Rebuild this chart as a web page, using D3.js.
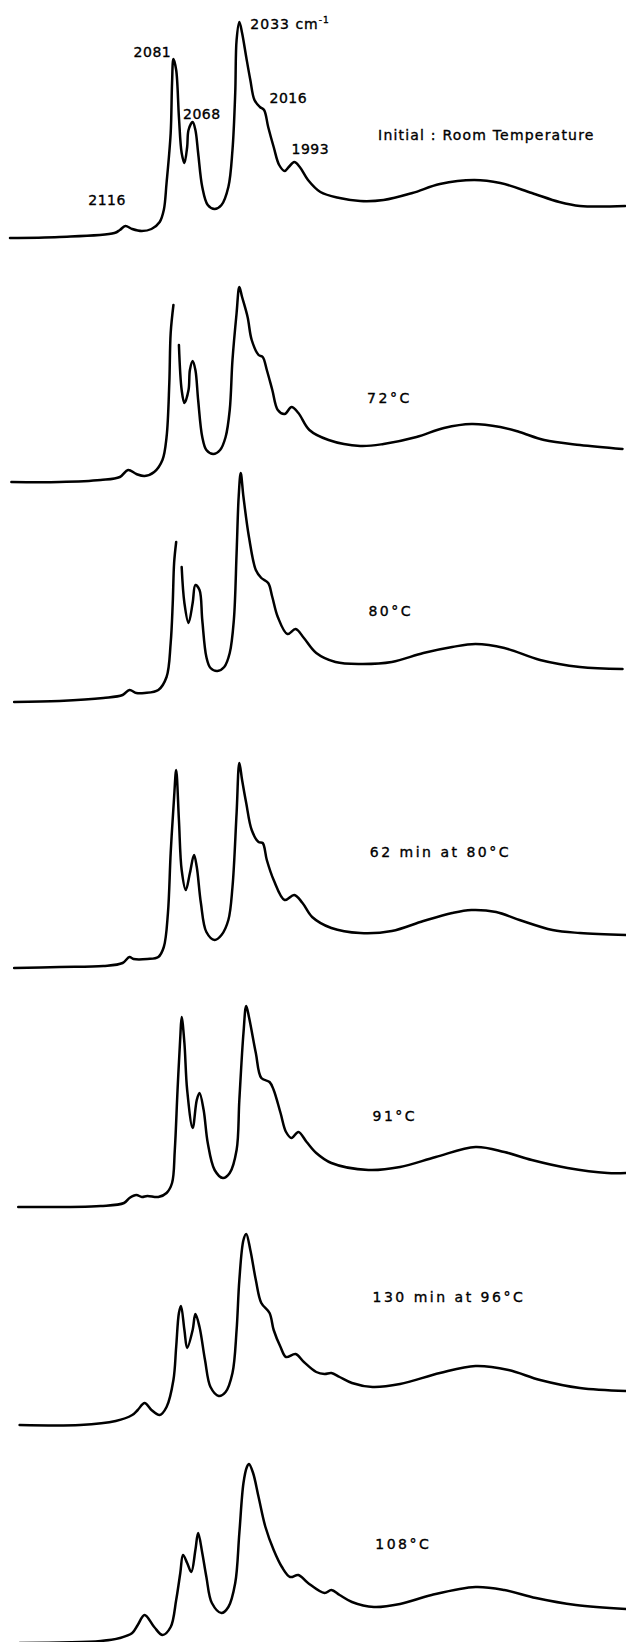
<!DOCTYPE html>
<html>
<head>
<meta charset="utf-8">
<script src="https://cdn.jsdelivr.net/npm/d3@7"></script>
<style>
    body { margin: 0; background: #fff; }
    svg { display: block; }
</style>
</head>
<body>
<div id="chart"></div>
<script>
// Each trace: [wavenumber cm-1, absorbance above that trace's own baseline]
// null marks where the pen lifted off the paper
var roomTemp = [[2200,0],[2164,0.01],[2124,0.05],[2120,0.08],[2116,0.12],[2111,0.09],[2104,0.07],[2097,0.09],
    [2091,0.16],[2088,0.28],[2086,0.55],[2083,1.05],[2082,1.55],[2081,1.79],[2079,1.68],[2077,1.21],[2075,0.85],
    [2073,0.75],[2071,0.91],[2070,1.08],[2067,1.16],[2065,1.08],[2063,0.85],[2060,0.51],[2056,0.33],[2051,0.29],
    [2046,0.33],[2041,0.51],[2038,0.88],[2036,1.45],[2035,1.98],[2033,2.16],[2031,2.05],[2028,1.81],[2025,1.58],
    [2022,1.38],[2018,1.31],[2015,1.28],[2012,1.11],[2008,0.91],[2004,0.73],[2000,0.67],[1997,0.71],[1993,0.76],
    [1989,0.71],[1983,0.58],[1974,0.46],[1960,0.40],[1945,0.37],[1928,0.38],[1907,0.45],[1887,0.54],[1862,0.58],
    [1843,0.55],[1820,0.45],[1800,0.36],[1785,0.32],[1752,0.32]];

var temp72 = [[2199,0],[2164,0],[2134,0.02],[2120,0.05],[2114,0.12],[2108,0.08],[2102,0.06],[2095,0.10],
    [2089,0.22],[2086,0.45],[2084,0.99],[2083,1.49],[2081,1.77],null,[2077,1.37],[2075,0.92],[2073,0.79],
    [2070,0.92],[2069,1.12],[2067,1.21],[2065,1.12],[2063,0.82],[2060,0.45],[2057,0.32],[2052,0.28],[2047,0.32],
    [2043,0.45],[2040,0.72],[2038,1.22],[2035,1.69],[2033,1.95],[2031,1.85],[2027,1.65],[2024,1.42],[2019,1.27],
    [2016,1.25],[2013,1.12],[2009,0.92],[2005,0.72],[2000,0.68],[1995,0.75],[1990,0.69],[1982,0.52],[1968,0.42],
    [1945,0.36],[1928,0.38],[1904,0.45],[1884,0.54],[1864,0.58],[1843,0.55],[1829,0.50],[1811,0.42],[1785,0.37],
    [1754,0.33]];

var temp80 = [[2197,0],[2164,0.01],[2132,0.04],[2118,0.07],[2113,0.12],[2108,0.09],[2102,0.09],[2092,0.12],
    [2086,0.25],[2083,0.59],[2081.5,0.99],[2080.5,1.39],[2079,1.60],null,[2075,1.35],[2073,0.99],[2070,0.79],
    [2067,0.99],[2065,1.17],[2062,1.12],[2060,0.82],[2057,0.45],[2054,0.34],[2049,0.31],[2044,0.35],[2040,0.49],
    [2037,0.82],[2035,1.49],[2033.5,2.05],[2032,2.29],[2030,2.05],[2026,1.65],[2021,1.32],[2017,1.24],[2012,1.19],
    [2009,1.05],[2005,0.85],[1998,0.68],[1992,0.73],[1986,0.64],[1977,0.49],[1963,0.40],[1945,0.38],[1922,0.40],
    [1899,0.49],[1878,0.55],[1861,0.58],[1840,0.54],[1814,0.42],[1785,0.35],[1754,0.33]];

var min62at80 = [[2197,0],[2164,0.01],[2132,0.02],[2118,0.05],[2113,0.11],[2110,0.09],[2100,0.09],[2092,0.11],
    [2088,0.21],[2085,0.55],[2083,1.15],[2080.5,1.71],[2079,1.98],[2077,1.48],[2075,0.98],[2072,0.78],[2069,0.95],
    [2066,1.13],[2064,1.01],[2061,0.65],[2057,0.36],[2051,0.28],[2046,0.33],[2041,0.48],[2038,0.81],[2035,1.55],
    [2033,2.05],[2031,1.88],[2028,1.65],[2024,1.38],[2019,1.26],[2016,1.25],[2013,1.08],[2008,0.88],[2000,0.68],
    [1993,0.73],[1987,0.65],[1980,0.51],[1966,0.40],[1945,0.35],[1922,0.37],[1899,0.47],[1878,0.55],[1864,0.58],
    [1846,0.56],[1829,0.48],[1805,0.38],[1785,0.35],[1751,0.33]];

var temp91 = [[2194,0],[2134,0.01],[2117,0.04],[2113,0.09],[2108,0.12],[2104,0.10],[2100,0.11],[2092,0.10],
    [2086,0.14],[2082,0.24],[2080,0.57],[2078,1.17],[2076,1.70],[2075,1.90],[2073,1.64],[2071,1.17],[2067,0.79],
    [2064,1.07],[2062,1.14],[2059,0.97],[2056,0.64],[2051,0.37],[2045,0.29],[2040,0.34],[2035,0.57],[2033,1.07],
    [2030,1.74],[2028,2.01],[2026,1.90],[2021,1.54],[2017,1.29],[2011,1.25],[2008,1.17],[2003,0.94],[1999,0.75],
    [1995,0.69],[1990,0.75],[1984,0.65],[1977,0.54],[1966,0.44],[1939,0.37],[1916,0.40],[1890,0.50],[1861,0.60],
    [1840,0.55],[1820,0.47],[1794,0.39],[1765,0.34],[1751,0.34]];

var min130at96 = [[2193,0],[2149,0],[2123,0.04],[2111,0.10],[2107,0.15],[2102,0.22],[2097,0.15],[2091,0.10],
    [2086,0.18],[2081,0.45],[2079,0.78],[2077,1.12],[2075.5,1.19],[2073,0.95],[2071,0.77],[2067,0.95],[2065,1.11],
    [2062,0.98],[2058,0.65],[2054,0.38],[2048,0.29],[2043,0.33],[2038,0.52],[2035,0.95],[2033,1.45],[2030,1.85],
    [2028,1.91],[2025,1.75],[2021,1.45],[2017,1.22],[2011,1.12],[2008,0.95],[2003,0.78],[1999,0.68],[1992,0.71],
    [1986,0.63],[1977,0.53],[1971,0.51],[1966,0.52],[1960,0.48],[1951,0.42],[1936,0.38],[1916,0.41],[1887,0.52],
    [1861,0.59],[1837,0.55],[1814,0.45],[1785,0.37],[1751,0.34]];

var temp108 = [[2193,-0.01],[2134,0.01],[2120,0.04],[2111,0.09],[2107,0.17],[2102,0.27],[2095,0.15],[2089,0.07],
    [2083,0.15],[2079,0.42],[2076,0.69],[2074,0.87],[2071,0.79],[2068,0.70],[2065,0.92],[2063,1.09],[2060,0.89],
    [2057,0.65],[2053,0.39],[2046,0.29],[2041,0.35],[2036,0.59],[2033,1.09],[2030,1.59],[2027.5,1.75],[2026,1.78],
    [2023,1.69],[2019,1.45],[2014,1.15],[2008,0.92],[2002,0.75],[1996,0.65],[1990,0.67],[1983,0.59],[1971,0.49],
    [1966,0.52],[1960,0.47],[1951,0.40],[1935,0.35],[1916,0.38],[1893,0.47],[1861,0.55],[1840,0.52],[1817,0.44],
    [1788,0.37],[1751,0.33]];

// Vertical stacking offset of each trace (absorbance units)
var traceOffsets = [14.04, 11.60, 9.40, 6.74, 4.35, 2.17, 0];

var traceNames = ["Initial : Room Temperature", "72°C", "80°C", "62 min at 80°C",
    "91°C", "130 min at 96°C", "108°C"];

// where each trace name sits, in [wavenumber, absorbance]
var traceNameAt = [[1932, 15.02], [1940, 12.39], [1939, 10.26], [1938, 7.85],
    [1936, 5.21], [1936, 3.40], [1934, 0.93]];

// band assignments written over the first trace
var peakNames = ["2116", "2081", "2068", "2016", "1993"];
var peakNameAt = [[2143, 14.37], [2110, 15.85], [2074, 15.23], [2011, 15.39], [1995, 14.88]];
var mainPeak = "2033";
var mainPeakAt = [2025, 16.13];

var SpectraChart = function() {
    var width = 626;
    var height = 1642;
    var strokeWidth = 2.5;
    var fontSize = 14;
    var fontFamily = "'DejaVu Sans', sans-serif";

    var chart = function(selection) {
        var xScale = d3.scaleLinear()
            .domain([2200, 1750])
            .range([10, 628]);

        var yScale = d3.scaleLinear()
            .domain([0, height / 100])
            .range([height, 0]);

        selection.each(function(data) {
            var svg = d3.select(this).append('svg')
                .attr('width', width)
                .attr('height', height);

            //one group per trace
            var trace = svg.selectAll('.trace')
                .data(data)
                .enter().append('g')
                .attr('class', 'trace');

            trace.append('path')
                .attr('fill', 'none')
                .attr('stroke', '#000')
                .attr('stroke-width', strokeWidth)
                .attr('stroke-linejoin', 'round')
                .attr('stroke-linecap', 'round')
                .attr('d', function(t) {
                    var line = d3.line()
                        .defined(function(d) { return d !== null; })
                        .x(function(d) { return xScale(d[0]); })
                        .y(function(d) { return yScale(d[1] + t.offset); })
                        .curve(d3.curveCatmullRom.alpha(0.5));
                    return line(t.values);
                });

            //trace names, the temperature ones are spaced out wider
            trace.append('text')
                .attr('x', function(t) { return xScale(t.labelAt[0]); })
                .attr('y', function(t) { return yScale(t.labelAt[1]); })
                .attr('stroke', '#000')
                .attr('stroke-width', 0.35)
                .style('font-family', fontFamily)
                .style('font-size', fontSize + 'px')
                .style('letter-spacing', function(t, i) { return i === 0 ? '1.2px' : '2.5px'; })
                .text(function(t) { return t.name; });

            //peak positions on top trace
            svg.selectAll('.peak')
                .data(peakNames)
                .enter().append('text')
                .attr('class', 'peak')
                .attr('x', function(d, i) { return xScale(peakNameAt[i][0]); })
                .attr('y', function(d, i) { return yScale(peakNameAt[i][1]); })
                .attr('stroke', '#000')
                .attr('stroke-width', 0.35)
                .style('font-family', fontFamily)
                .style('font-size', fontSize + 'px')
                .style('letter-spacing', '0.5px')
                .text(function(d) { return d; });

            var main = svg.append('text')
                .attr('x', xScale(mainPeakAt[0]))
                .attr('y', yScale(mainPeakAt[1]))
                .attr('stroke', '#000')
                .attr('stroke-width', 0.35)
                .style('font-family', fontFamily)
                .style('font-size', fontSize + 'px')
                .style('letter-spacing', '1px');
            main.append('tspan').text(mainPeak + ' cm');
            main.append('tspan')
                .attr('dy', -6)
                .style('font-size', '9px')
                .text('-1');
        });
    };

    chart.width = function(inputWidth) {
        if (!arguments.length) return width;
        width = inputWidth;
        return chart;
    };

    chart.height = function(inputHeight) {
        if (!arguments.length) return height;
        height = inputHeight;
        return chart;
    };

    return chart;
};

var traceData = [roomTemp, temp72, temp80, min62at80, temp91, min130at96, temp108].map(function(v, i) {
    return { values: v, offset: traceOffsets[i], name: traceNames[i], labelAt: traceNameAt[i] };
});

d3.select('#chart')
    .datum(traceData)
    .call(SpectraChart());
</script>
</body>
</html>
